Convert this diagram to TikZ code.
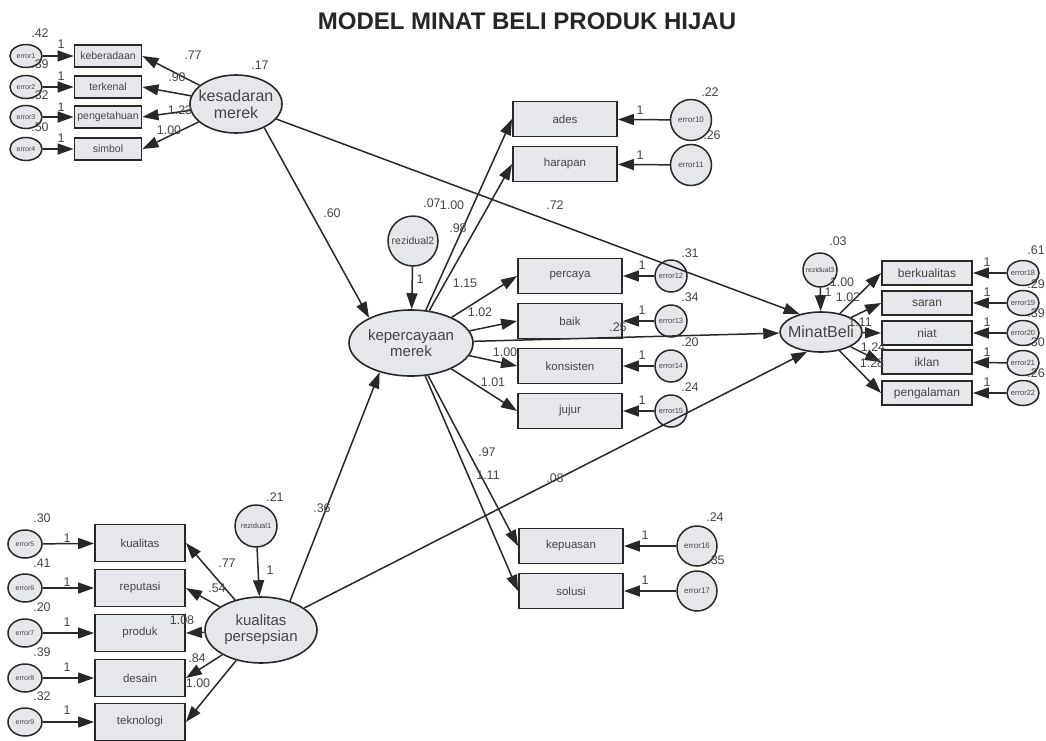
\documentclass[tikz,border=0pt]{standalone}
\usepackage{fontspec}
\setmainfont{Liberation Sans}
\usetikzlibrary{arrows.meta,shapes.geometric}
\definecolor{fillc}{RGB}{230,231,235}
\definecolor{linec}{RGB}{40,40,40}
\definecolor{txtc}{RGB}{70,70,70}
\newcommand\fsz[1]{\fontsize{#1}{#1}\selectfont}
\begin{document}
\begin{tikzpicture}[x=1pt,y=-1pt,
  box/.style={draw=linec,line width=1.9pt,fill=fillc,inner sep=0pt,text=txtc},
  tbox/.style={box,minimum width=67pt,minimum height=22pt,font=\fsz{10.5}},
  mbox/.style={box,minimum width=104pt,minimum height=35pt,font=\fsz{11.5}},
  rbox/.style={box,minimum width=90pt,minimum height=24pt,font=\fsz{12}},
  lbox/.style={box,minimum width=90pt,minimum height=37pt,font=\fsz{11.5}},
  lat/.style={ellipse,draw=linec,line width=1.6pt,fill=fillc,inner sep=0pt},
  err/.style={ellipse,draw=linec,line width=1.5pt,fill=fillc,inner sep=0pt},
  etxt/.style={text=txtc,inner sep=0pt},
  ltxt/.style={text=txtc,align=center,inner sep=0pt},
  arr/.style={draw=linec,line width=1.5pt,-{Triangle[length=16pt,width=11pt]}},
  num/.style={text=txtc,font=\fsz{12.5},inner sep=0pt}
]
\useasboundingbox[fill=white] (0,0) rectangle (1046,740);

\node[font=\bfseries\fsz{24},text=black!85] (title) at (527,21) {MODEL MINAT BELI PRODUK HIJAU};

% ---------- kesadaran merek cluster
\node[lat,minimum width=92pt,minimum height=58pt,label={[ltxt,font=\fsz{16}]center:{kesadaran\\[1pt]merek}}] (ks) at (236,104) {};
\node[tbox] (b1) at (108,56) {keberadaan};
\node[tbox] (b2) at (108,87) {terkenal};
\node[tbox] (b3) at (108,117) {pengetahuan};
\node[tbox] (b4) at (108,149) {simbol};
\foreach \i/\y in {1/56,2/87,3/117,4/149}{
  \node[err,minimum width=32pt,minimum height=23pt,label={[etxt,font=\fsz{7}]center:error\i}] (e\i) at (26,\y) {};
}

% ---------- kepercayaan merek cluster
\node[err,minimum width=50pt,minimum height=50pt,label={[etxt,font=\fsz{10.5}]center:rezidual2}] (rz2) at (413,241) {};
\node[lat,minimum width=124pt,minimum height=66pt,label={[ltxt,font=\fsz{15}]center:{kepercayaan\\[1pt]merek}}] (kp) at (411,343) {};
\node[mbox] (ades) at (565,119) {ades};
\node[mbox] (harapan) at (565,164) {harapan};
\node[mbox] (percaya) at (570,276) {percaya};
\node[mbox] (baik) at (570,321) {baik};
\node[mbox] (konsisten) at (570,366) {konsisten};
\node[mbox] (jujur) at (570,411) {jujur};
\node[mbox] (kepuasan) at (571,546) {kepuasan};
\node[mbox] (solusi) at (571,591) {solusi};
\node[err,minimum size=41pt,label={[etxt,font=\fsz{8}]center:error10}] (e10) at (691,120) {};
\node[err,minimum size=41pt,label={[etxt,font=\fsz{8}]center:error11}] (e11) at (691,165) {};
\foreach \i/\y in {12/276,13/321,14/366,15/411}{
  \node[err,minimum size=32pt,label={[etxt,font=\fsz{7.5}]center:error\i}] (e\i) at (671,\y) {};
}
\node[err,minimum size=40pt,label={[etxt,font=\fsz{8}]center:error16}] (e16) at (697,546) {};
\node[err,minimum size=40pt,label={[etxt,font=\fsz{8}]center:error17}] (e17) at (697,591) {};

% ---------- Minat Beli cluster
\node[err,minimum size=34pt,label={[etxt,font=\fsz{7}]center:rezidual3}] (rz3) at (820,270) {};
\node[lat,minimum width=82pt,minimum height=40pt,label={[ltxt,font=\fsz{16}]center:MinatBeli}] (mb) at (821,332) {};
\node[rbox] (r1) at (927,273) {berkualitas};
\node[rbox] (r2) at (927,303) {saran};
\node[rbox] (r3) at (927,333) {niat};
\node[rbox] (r4) at (927,362) {iklan};
\node[rbox] (r5) at (927,393) {pengalaman};
\foreach \i/\y in {18/273,19/303,20/333,21/363,22/393}{
  \node[err,minimum width=32pt,minimum height=25pt,label={[etxt,font=\fsz{7.5}]center:error\i}] (e\i) at (1023,\y) {};
}

% ---------- kualitas persepsian cluster
\node[err,minimum size=42pt,label={[etxt,font=\fsz{7.5}]center:rezidual1}] (rz1) at (256,526) {};
\node[lat,minimum width=112pt,minimum height=66pt,label={[ltxt,font=\fsz{15}]center:{kualitas\\[1pt]persepsian}}] (kq) at (261,630) {};
\node[lbox] (l1) at (140,543) {kualitas};
\node[lbox] (l2) at (140,588) {reputasi};
\node[lbox] (l3) at (140,633) {produk};
\node[lbox] (l4) at (140,678) {desain};
\node[lbox] (l5) at (140,722) {teknologi};
\foreach \i/\y in {5/544,6/588,7/633,8/678,9/722}{
  \node[err,minimum width=34pt,minimum height=28pt,label={[etxt,font=\fsz{7}]center:error\i}] (e\i) at (25,\y) {};
}

% ---------- connectors
\foreach \i in {1,2,3,4}{ \draw[arr] (e\i) -- (b\i); \draw[arr] (ks) -- (b\i.east); }
\draw[arr] (ks.320) -- (kp.149);
\draw[arr] (ks) -- (mb.140);
\draw[arr] (rz2) -- (kp);
\foreach \b in {ades,harapan,percaya,baik,konsisten,jujur,kepuasan,solusi}{ \draw[arr] (kp) -- (\b.west); }
\draw[arr] (kp) -- (mb);
\draw[arr] (e10) -- (ades); \draw[arr] (e11) -- (harapan);
\draw[arr] (e12) -- (percaya); \draw[arr] (e13) -- (baik);
\draw[arr] (e14) -- (konsisten); \draw[arr] (e15) -- (jujur);
\draw[arr] (e16) -- (kepuasan); \draw[arr] (e17) -- (solusi);
\draw[arr] (rz3) -- (mb);
\foreach \i/\e in {1/18,2/19,3/20,4/21,5/22}{ \draw[arr] (mb) -- (r\i.west); \draw[arr] (e\e) -- (r\i); }
\draw[arr] (rz1) -- (kq);
\foreach \i/\e in {1/5,2/6,3/7,4/8,5/9}{ \draw[arr] (kq) -- (l\i.east); \draw[arr] (e\e) -- (l\i); }
\draw[arr] (kq.45) -- (kp.223);
\draw[arr] (kq) -- (mb.235);

% ---------- estimates
\foreach \t/\x/\y [count=\k] in {
  .42/40/33, .39/40/64, .32/40/95, .50/40/127,
  1/61/44, 1/61/76, 1/61/107, 1/61/138,
  .77/193/55, .90/177/77, 1.23/180/110, 1.00/169/130, .17/260/65,
  .60/332/213, .07/432/203, 1.00/452/205, .98/458/228, 1/420/279, .72/555/205,
  .22/710/92, .26/712/135, 1/640/110, 1/640/155,
  .31/690/253, .34/690/297, .25/618/327, .20/690/342, .24/690/387,
  1/642/265, 1/642/310, 1/642/355, 1/642/400,
  1.15/465/283, 1.02/480/312, 1.00/505/352, 1.01/493/382,
  .97/487/452, 1.11/488/475, .08/555/478, .24/715/517, .35/716/560, 1/645/535, 1/645/580,
  .03/838/241, 1.00/842/282, 1/828/292, 1.02/848/297, 1.11/860/322, 1.24/873/347, 1.28/872/363,
  1/987/262, 1/987/292, 1/987/322, 1/987/352, 1/987/382,
  .30/42/518, .41/42/563, .20/42/607, .39/42/652, .32/42/696,
  1/67/538, 1/67/582, 1/67/622, 1/67/667, 1/67/710,
  .21/275/497, 1/270/570, .77/227/563, .54/217/588, 1.08/182/620, .84/197/658, 1.00/198/683, .36/322/508}{
  \node[num] (n\k) at (\x,\y) {\t};
}
\foreach \t/\y [count=\k] in {.61/250,.29/284,.39/313,.30/342,.26/373}{
  \node[num,anchor=east] (m\k) at (1045,\y) {\t};
}
\end{tikzpicture}
\end{document}
